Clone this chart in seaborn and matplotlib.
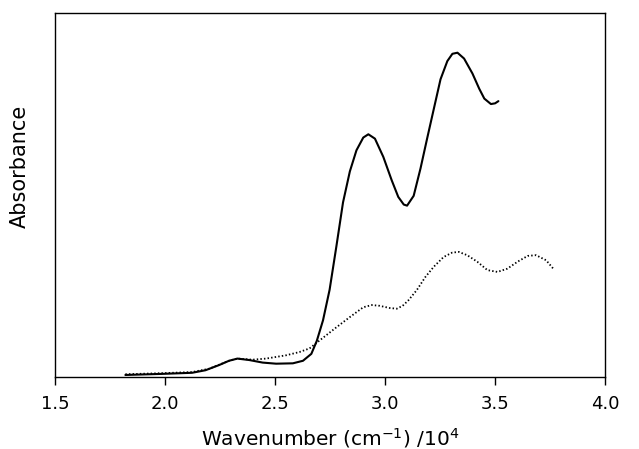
import matplotlib
matplotlib.use("Agg")
import matplotlib.pyplot as plt
import seaborn as sns
import pandas as pd

# Solid curve (wavenumber /10^4, absorbance arb. units)
solid_w = [1.820, 1.986, 2.123, 2.184, 2.245, 2.291, 2.329, 2.383, 2.444, 2.505, 2.581, 2.627,
           2.665, 2.690, 2.718, 2.748, 2.779, 2.809, 2.840, 2.870, 2.901, 2.924, 2.954, 2.992,
           3.030, 3.060, 3.085, 3.100, 3.130, 3.161, 3.191, 3.222, 3.252, 3.283, 3.306, 3.329,
           3.359, 3.397, 3.428, 3.451, 3.481, 3.500, 3.515]
solid_a = [0.006, 0.009, 0.012, 0.019, 0.033, 0.045, 0.051, 0.047, 0.040, 0.037, 0.038, 0.045,
           0.064, 0.100, 0.156, 0.240, 0.360, 0.480, 0.565, 0.623, 0.658, 0.667, 0.655, 0.605,
           0.541, 0.495, 0.474, 0.471, 0.498, 0.573, 0.655, 0.738, 0.818, 0.868, 0.888, 0.891,
           0.875, 0.834, 0.792, 0.765, 0.750, 0.752, 0.758]
# Dotted curve
dot_w = [1.820, 1.990, 2.123, 2.200, 2.291, 2.329, 2.398, 2.459, 2.550, 2.611, 2.657, 2.703,
         2.779, 2.840, 2.901, 2.940, 2.975, 3.020, 3.053, 3.080, 3.106, 3.144, 3.183, 3.221,
         3.266, 3.305, 3.335, 3.373, 3.419, 3.465, 3.511, 3.556, 3.602, 3.648, 3.686, 3.732,
         3.767]
dot_a = [0.008, 0.011, 0.014, 0.023, 0.045, 0.051, 0.048, 0.051, 0.060, 0.069, 0.079, 0.101,
         0.137, 0.165, 0.192, 0.198, 0.196, 0.190, 0.188, 0.196, 0.211, 0.239, 0.275, 0.303,
         0.330, 0.342, 0.344, 0.335, 0.317, 0.294, 0.289, 0.298, 0.317, 0.333, 0.335, 0.321,
         0.296]
xticks = [1.5, 2.0, 2.5, 3.0, 3.5, 4.0]
xticklabels = ["1.5", "2.0", "2.5", "3.0", "3.5", "4.0"]

sns.set_theme(style="ticks")
plt.rcParams['font.family'] = ['DejaVu Sans']

fig = plt.figure(figsize=(6.39, 4.49), dpi=100)
ax = fig.add_axes([0.086, 0.160, 0.861, 0.811])

df_s = pd.DataFrame({"w": solid_w, "a": solid_a})
df_d = pd.DataFrame({"w": dot_w, "a": dot_a})
sns.lineplot(data=df_s, x="w", y="a", ax=ax, color="black", linewidth=1.5, sort=False)
sns.lineplot(data=df_d, x="w", y="a", ax=ax, color="black", linewidth=1.3,
             linestyle=(0, (0.8, 1.2)), sort=False)

ax.set_xlim(1.5, 4.0)
ax.set_ylim(0, 1.0)
ax.set_xticks(xticks)
ax.set_xticklabels(xticklabels, fontsize=13, color="black")
ax.set_yticks([])
ax.tick_params(axis="x", direction="out", length=6, width=1, color="black", pad=7)
for s in ax.spines.values():
    s.set_color("black")
    s.set_linewidth(1.0)
ax.set_xlabel(r"Wavenumber (cm$^{-1}$) /10$^{4}$", fontsize=14.5, color="black", labelpad=9)
ax.set_ylabel("Absorbance", fontsize=15, color="black")
ax.yaxis.set_label_coords(-0.045, 0.58)

fig.savefig("out.png", dpi=100)
